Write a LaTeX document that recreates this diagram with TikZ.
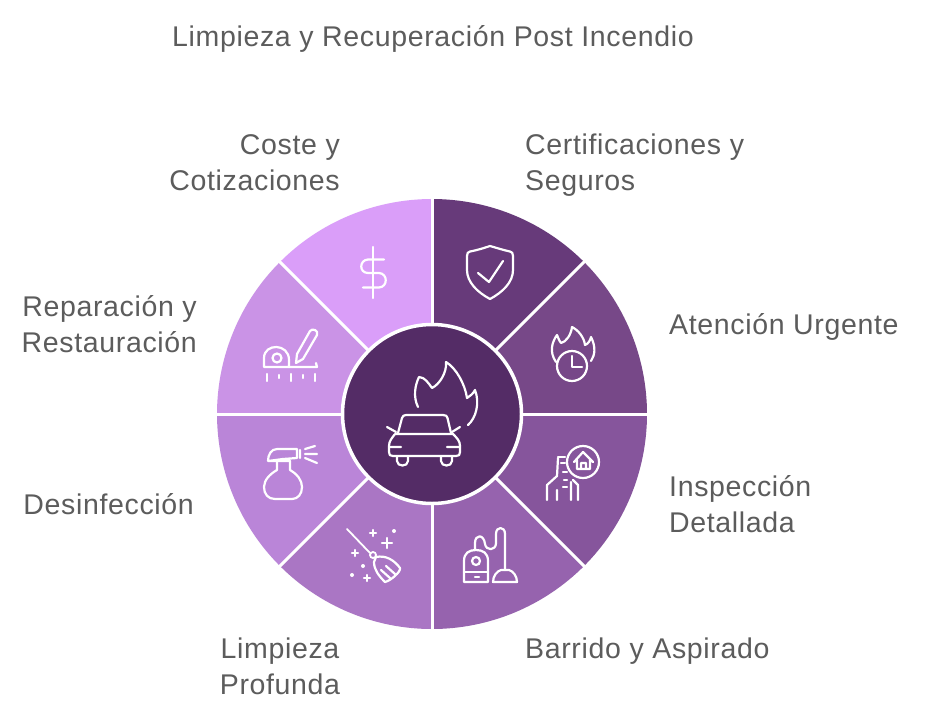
\documentclass[tikz,border=0pt]{standalone}
\usepackage{fontspec}
\setmainfont{Liberation Sans}
\newfontfamily\lab{Liberation Sans}[LetterSpace=2.3]
\definecolor{c0}{HTML}{542C66}
\definecolor{c1}{HTML}{673A7A}
\definecolor{c2}{HTML}{774888}
\definecolor{c3}{HTML}{86559C}
\definecolor{c4}{HTML}{9663AE}
\definecolor{c5}{HTML}{AA76C4}
\definecolor{c6}{HTML}{BA85D8}
\definecolor{c7}{HTML}{CA93E6}
\definecolor{c8}{HTML}{DA9EF9}
\definecolor{txt}{HTML}{5C5C5C}
\begin{document}
\begin{tikzpicture}[x=1pt,y=-1pt,
  lbl/.style={font=\lab\fontsize{28.5}{36}\selectfont,text=txt,inner sep=0pt},
  lr/.style={lbl,anchor=north west,align=left},
  ll/.style={lbl,anchor=north east,align=right},
  ic/.style={draw=white,line width=2.2pt,line cap=round,line join=round},
  thin/.style={draw=white,line width=1.8pt,line cap=round,line join=round},
  ring/.style={circle,draw=white,line width=2.2pt,inner sep=0pt},
  sep/.style={draw=white,line width=3pt}]
\useasboundingbox (0,0) rectangle (936,720);
\fill[white] (0,0) rectangle (936,720);
\coordinate (o) at (432,414);
\foreach \a/\c in {-90/c1,-45/c2,0/c3,45/c4,90/c5,135/c6,180/c7,225/c8}{
  \fill[\c] (o) -- ++(\a:215) arc[start angle=\a,end angle=\a+45,radius=215] -- cycle;
}
\foreach \a in {0,45,...,315}{\draw[sep] (o) -- ++(\a:216);}
\node[circle,fill=c0,draw=white,line width=3.5pt,minimum size=179pt,inner sep=0pt] (hub) at (o) {};
% hub icon: car
\draw[ic] (398,433) -- (402,418) .. controls (402.5,416) and (404,415) .. (406,415) -- (443,415) .. controls (446,415) and (447,416) .. (447.5,418) -- (451,433);
\draw[ic] (395,434) -- (453,434) .. controls (457,438) and (460,441) .. (460,446) -- (460,452) .. controls (460,455) and (459,456) .. (456,456) -- (393,456) .. controls (390,456) and (389,455) .. (389,452) -- (389,446) .. controls (389,441) and (392,438) .. (395,434);
\draw[ic] (387,427) -- (396,432) (460,427) -- (452,432) (390,447) -- (401,447) (447,447) -- (459,447);
\draw[ic] (397,457) -- (397,461) .. controls (397,467) and (408,467) .. (408,461) -- (408,457);
\draw[ic] (441,457) -- (441,461) .. controls (441,467) and (452,467) .. (452,461) -- (452,457);
\draw[ic] (418,407) .. controls (413,397) and (415,385) .. (419,377) .. controls (425,377) and (429,384) .. (432,388) .. controls (440,384) and (447,372) .. (446,362) .. controls (456,368) and (465,384) .. (467,398) .. controls (470,396) and (473,394) .. (475,390) .. controls (480,403) and (476,418) .. (468,425);
% dollar
\draw[ic] (373,247) -- (373,298);
\draw[ic] (384,259.5) -- (368,259.5) .. controls (359,260) and (359,273) .. (368,273) -- (379,273) .. controls (388,273.5) and (388,287) .. (379,287.5) -- (363,287.5);
% shield
\draw[ic] (467,256) .. controls (467,253) and (468,252) .. (470,251.5) .. controls (478,250) and (484,248) .. (490,246) .. controls (497,248) and (503,250) .. (510,251.5) .. controls (512,252) and (513,253) .. (513,256) -- (513,270) .. controls (513,282) and (503,292) .. (490,299) .. controls (477,292) and (467,282) .. (467,270) -- cycle;
\draw[ic] (478,273) -- (489,282) -- (503,261);
% clock flame
\draw[ic] (556,362) .. controls (549,352) and (552,342) .. (557,335) .. controls (559,340) and (560,342) .. (561,343) .. controls (566,342) and (571,335) .. (572,327) .. controls (578,330) and (584,337) .. (585,345) .. controls (588,344) and (590,341) .. (591,337) .. controls (596,347) and (595,355) .. (591,361);
\node[ring,minimum size=30pt] (clk) at (572,366) {};
\draw[ic] (572,356) -- (572,367) -- (582,367);
% house and hand
\node[ring,minimum size=32pt] (pin) at (583,462) {};
\draw[ic] (574,462) -- (583,452) -- (593,462) (577,460) -- (577,469) -- (590,469) -- (590,460) (581,469) -- (581,463) -- (586,463) -- (586,469);
\draw[ic] (558,458) -- (557,476) -- (547,485) -- (547,500);
\draw[ic] (558,457) -- (565,457) (561,463)--(565,463) (563,472)--(567,472) (564,480)--(567,480) (563,487)--(567,487);
\draw[ic] (557,490) -- (557,500) (571,500) -- (571,482) (578,500) -- (578,485) -- (573,480);
% vacuum
\draw[ic] (464,582) -- (464,561) .. controls (464,553) and (469,550) .. (476,550) .. controls (483,550) and (488,553) .. (488,561) -- (488,582) -- cycle;
\draw[ic] (464,572) -- (488,572) (475,577) -- (479,577);
\node[ring,minimum size=8pt] (vac) at (476,561) {};
\draw[ic] (475,550) -- (475,543) .. controls (475,534) and (484,534) .. (485,544) .. controls (486,551) and (496,551) .. (496,543) -- (496,534) .. controls (496,526) and (505,526) .. (505,534) -- (505,570);
\draw[ic] (501,570) -- (509,570) .. controls (513,571) and (517,576) .. (517,582) -- (493,582) .. controls (493,576) and (497,571) .. (501,570);
% broom
\draw[thin] (347,529) -- (370,553);
\node[ring,line width=1.8pt,minimum size=6pt] (brm) at (373,555) {};
\draw[ic] (376,557) .. controls (386,555) and (394,560) .. (400,568) .. controls (401,572) and (390,581) .. (385,582) .. controls (379,576) and (374,570) .. (374,562) -- cycle;
\draw[ic] (381,570) -- (390,578) (386,566) -- (395,574);
\draw[ic] (382,543) -- (392,543) (387,538) -- (387,548);
\draw[ic] (370,533) -- (376,533) (373,530) -- (373,536) (352,553) -- (358,553) (355,550) -- (355,556) (364,578) -- (370,578) (367,575) -- (367,581);
\fill[white] (394,531) circle (2pt) (352,575) circle (2pt) (363,566) circle (2pt);
% spray
\draw[ic] (268,461) .. controls (268,455) and (271,449) .. (277,449) -- (297,449) -- (297,458) -- (283,459) -- (268,461) -- (290,461);
\draw[ic] (277,461) -- (277,470) .. controls (270,474) and (264,480) .. (264,487) .. controls (264,494) and (268,499) .. (275,499) -- (292,499) .. controls (298,499) and (302,494) .. (302,487) .. controls (302,480) and (297,474) .. (290,470) -- (290,461);
\draw[ic] (300,450) -- (300,458) (305,449) -- (315,446) (305,454) -- (317,454) (305,458) -- (317,463);
% tape
\draw[ic] (264,367) -- (264,358) .. controls (264,343) and (289,343) .. (289,360) -- (289,367) -- cycle;
\node[ring,minimum size=9pt] (tap) at (277,358) {};
\draw[ic] (289,367) -- (317,367) -- (316,363);
\draw[ic] (296,363) -- (297,354) -- (310,331) .. controls (312,328) and (319,330) .. (317,335) -- (303,359) -- cycle;
\draw[ic] (267,374) -- (267,381) (279,375) -- (279,378) (291,374) -- (291,381) (303,375) -- (303,378) (315,374) -- (315,381);
% labels
\node[lbl,anchor=north west] (title) at (172,25) {Limpieza y Recuperación Post Incendio};
\node[ll] (a) at (340,134) {Coste y\\Cotizaciones};
\node[lr] (b) at (525,134) {Certificaciones y\\Seguros};
\node[lr] (c) at (669,313) {Atención Urgente};
\node[lr] (d) at (669,475) {Inspección\\Detallada};
\node[lr] (e) at (525,638) {Barrido y Aspirado};
\node[lbl,anchor=north,align=center] (f) at (280,638) {Limpieza\\Profunda};
\node[ll] (g) at (194,493) {Desinfección};
\node[ll] (h) at (197,295) {Reparación y\\Restauración};
\end{tikzpicture}
\end{document}
